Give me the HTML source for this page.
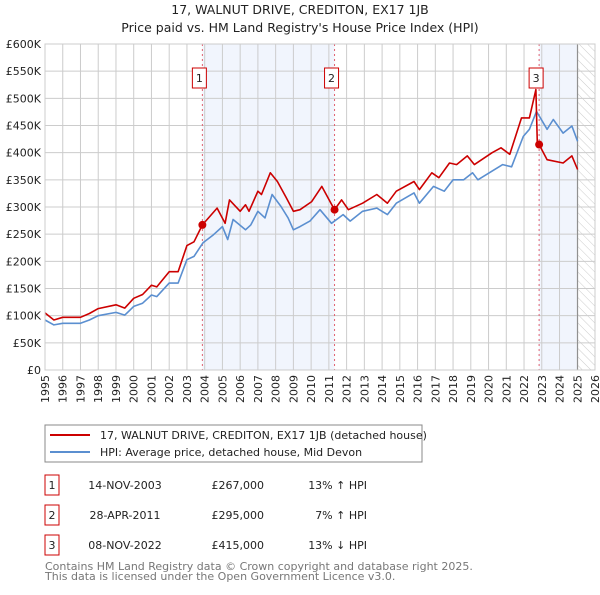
<!DOCTYPE html>
<html><head><meta charset="utf-8"><style>
body{margin:0;background:#fff;font-family:"Liberation Sans",sans-serif;}
svg text{font-family:"DejaVu Sans","Liberation Sans",sans-serif;}
</style></head><body>
<svg width="600" height="590" xmlns="http://www.w3.org/2000/svg" id="chart">
<defs><pattern id="hatch" width="6" height="6" patternUnits="userSpaceOnUse" patternTransform="rotate(-45)"><line x1="0" y1="0" x2="0" y2="6" stroke="#ccc" stroke-width="1"/></pattern></defs>
<text x="300" y="14" text-anchor="middle" font-size="12.5" fill="#222">17, WALNUT DRIVE, CREDITON, EX17 1JB</text>
<text x="300" y="32" text-anchor="middle" font-size="12.5" fill="#222">Price paid vs. HM Land Registry's House Price Index (HPI)</text>
<g id="plot"></g>
<g>
<rect x="45" y="425" width="377" height="37" fill="#fff" stroke="#888"/>
<line x1="50" y1="435" x2="90" y2="435" stroke="#cc0000" stroke-width="2"/>
<text x="100" y="439" font-size="11" fill="#222">17, WALNUT DRIVE, CREDITON, EX17 1JB (detached house)</text>
<line x1="50" y1="452" x2="90" y2="452" stroke="#5b8fd0" stroke-width="2"/>
<text x="100" y="456" font-size="11" fill="#222">HPI: Average price, detached house, Mid Devon</text>
</g>
<g font-size="11" fill="#222">
<rect x="45" y="475" width="14" height="20" fill="#fff" stroke="#cc0000"/><text x="52" y="489" text-anchor="middle">1</text>
<text x="125" y="489" text-anchor="middle">14-NOV-2003</text><text x="264" y="489" text-anchor="end">£267,000</text><text x="367" y="489" text-anchor="end">13% ↑ HPI</text>
<rect x="45" y="505" width="14" height="20" fill="#fff" stroke="#cc0000"/><text x="52" y="519" text-anchor="middle">2</text>
<text x="125" y="519" text-anchor="middle">28-APR-2011</text><text x="264" y="519" text-anchor="end">£295,000</text><text x="367" y="519" text-anchor="end">7% ↑ HPI</text>
<rect x="45" y="535" width="14" height="20" fill="#fff" stroke="#cc0000"/><text x="52" y="549" text-anchor="middle">3</text>
<text x="125" y="549" text-anchor="middle">08-NOV-2022</text><text x="264" y="549" text-anchor="end">£415,000</text><text x="367" y="549" text-anchor="end">13% ↓ HPI</text>
</g>
<text x="45" y="570" font-size="11" fill="#777">Contains HM Land Registry data © Crown copyright and database right 2025.</text>
<text x="45" y="580" font-size="11" fill="#777">This data is licensed under the Open Government Licence v3.0.</text>
</svg>
<script>
const hpiYears=[1995,1995.5,1996,1997,1997.5,1998,1999,1999.5,2000,2000.5,2001,2001.3,2002,2002.5,2003,2003.4,2003.9,2004.5,2005,2005.3,2005.6,2006.3,2006.6,2007,2007.4,2007.8,2008.3,2008.7,2009,2009.37,2009.93,2010.5,2011.15,2011.8,2012.2,2012.9,2013.7,2014.3,2014.8,2015.8,2016.1,2016.9,2017.5,2018,2018.6,2019.1,2019.4,2020.2,2020.8,2021.3,2021.96,2022.3,2022.7,2023.3,2023.65,2024.2,2024.7,2025.02];
const hpiValues=[92,83,86,86,92,100,106,101,117,123,138,135,160,160,203,209,234,249,264,240,277,258,267,292,280,323,301,280,258,264,274,295,270,286,274,292,298,286,307,326,307,338,329,350,350,363,350,366,378,374,430,443,476,443,461,436,449,421];
const priceYears=[1995,1995.5,1996,1997,1997.5,1998,1999,1999.5,2000,2000.5,2001,2001.3,2002,2002.5,2003,2003.4,2003.87,2004.7,2005.15,2005.4,2006,2006.3,2006.5,2007,2007.2,2007.7,2008.1,2008.6,2009,2009.37,2010.03,2010.6,2011.32,2011.72,2012.1,2012.9,2013.7,2014.3,2014.8,2015.8,2016.1,2016.8,2017.2,2017.8,2018.2,2018.8,2019.2,2020.2,2020.7,2021.2,2021.86,2022.3,2022.67,2022.75,2022.85,2023.3,2024.2,2024.7,2025.02];
const priceValues=[105,92,97,97,104,113,120,114,132,139,156,153,181,181,229,236,267,298,270,313,292,304,292,329,323,363,347,317,292,295,310,338,295,313,295,307,323,307,329,347,332,363,354,381,378,394,378,400,409,397,464,464,516,418,415,387,381,394,369];
const saleYears=[2003.87,2011.32,2022.85];
const saleValues=[267,295,415];
const saleLabels=["1","2","3"];
const yTicks=[0,50,100,150,200,250,300,350,400,450,500,550,600];
const yTickLabels=["£0","£50K","£100K","£150K","£200K","£250K","£300K","£350K","£400K","£450K","£500K","£550K","£600K"];
const xTicks=[1995,1996,1997,1998,1999,2000,2001,2002,2003,2004,2005,2006,2007,2008,2009,2010,2011,2012,2013,2014,2015,2016,2017,2018,2019,2020,2021,2022,2023,2024,2025,2026];

const L=45,R=595,T=44,B=370;
const xs=y=>L+(y-1995)*(R-L)/31;
const ys=v=>B-v*(B-T)/600;
const NS="http://www.w3.org/2000/svg";
const g=document.getElementById('plot');
function mk(tag,attrs){const e=document.createElementNS(NS,tag);for(const k in attrs)e.setAttribute(k,attrs[k]);g.appendChild(e);return e;}
let s1=mk('rect',{x:xs(saleYears[0]),y:T,width:xs(saleYears[1])-xs(saleYears[0]),height:B-T,fill:'#eef3fc',opacity:0.8});


let s2=mk('rect',{x:xs(saleYears[2]),y:T,width:xs(2025.02)-xs(saleYears[2]),height:B-T,fill:'#eef3fc',opacity:0.8});


let hz=mk('rect',{x:xs(2025.02),y:T,width:R-xs(2025.02),height:B-T,fill:'url(#hatch)'});


yTicks.forEach((v,i)=>{
 const l=mk('line',{x1:L,x2:R,y1:ys(v),y2:ys(v),stroke:'#ccc','stroke-width':1});
 
 
 const t=mk('text',{x:L-4,y:ys(v)+4,'text-anchor':'end','font-size':11,fill:'#222'});
 t.textContent=yTickLabels[i];
 
 
});
xTicks.forEach(yr=>{
 const l=mk('line',{x1:xs(yr),x2:xs(yr),y1:T,y2:B,stroke:'#ccc','stroke-width':1});
 
 
 const tx=xs(yr)+4, ty=B+5;
 const t=mk('text',{x:tx,y:ty,'text-anchor':'end','font-size':11,fill:'#222',transform:'rotate(-90 '+tx+' '+ty+')'});
 t.textContent=yr;
 
 
});
let vl=mk('line',{x1:xs(2025.02),x2:xs(2025.02),y1:T,y2:B,stroke:'#888','stroke-width':1});


saleYears.forEach((yr,i)=>{
 const l=mk('line',{x1:xs(yr),x2:xs(yr),y1:T,y2:B,stroke:'#e06070','stroke-width':1,'stroke-dasharray':'2,3'});
 
 
});
function path(xa,va,color,name){
 const d=xa.map((x,i)=>(i?'L':'M')+xs(x).toFixed(1)+','+ys(va[i]).toFixed(1)).join('');
 const p=mk('path',{d:d,fill:'none',stroke:color,'stroke-width':1.6,'stroke-linejoin':'round'});
 
 
}
path(hpiYears,hpiValues,'#5b8fd0','hpi-line');
path(priceYears,priceValues,'#cc0000','price-paid-line');
saleYears.forEach((yr,i)=>{
 const c=mk('circle',{cx:xs(yr),cy:ys(saleValues[i]),r:4,fill:'#cc0000'});
 
 
 const b=mk('rect',{x:xs(yr)-10,y:68,width:14,height:20,fill:'#fff',stroke:'#cc0000'});
 
 
 const t=mk('text',{x:xs(yr)-3,y:82,'text-anchor':'middle','font-size':11,fill:'#222'});
 t.textContent=saleLabels[i];
 
 
});
let fr=mk('rect',{x:L,y:T,width:R-L,height:B-T,fill:'none',stroke:'#ccc'});


</script>
</body></html>
